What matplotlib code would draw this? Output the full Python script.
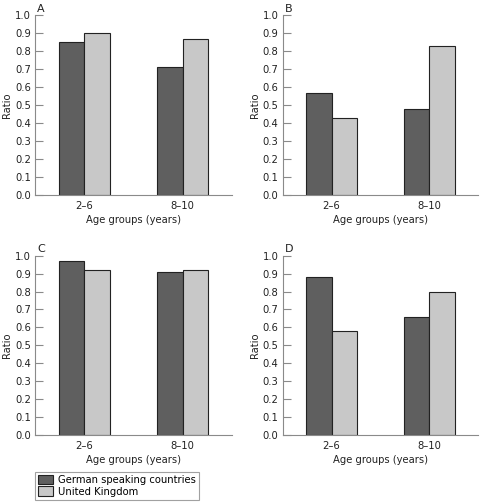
import matplotlib
matplotlib.use("Agg")
import matplotlib.pyplot as plt
import numpy as np

groups = ["2–6", "8–10"]
series_names = ["German speaking countries", "United Kingdom"]
panel_labels = ["A", "B", "C", "D"]
german = {"A": [0.85, 0.71], "B": [0.57, 0.48], "C": [0.97, 0.91], "D": [0.88, 0.66]}
uk = {"A": [0.90, 0.87], "B": [0.43, 0.83], "C": [0.92, 0.92], "D": [0.58, 0.795]}
yticks = [0.0, 0.1, 0.2, 0.3, 0.4, 0.5, 0.6, 0.7, 0.8, 0.9, 1.0]

plt.rcParams['font.family'] = ['DejaVu Sans']
fig = plt.figure(figsize=(4.8, 5.03), dpi=100)

W, H = 480, 503
boxes = {
    "A": (35, 231.7, 15.3, 195),
    "B": (282.7, 478, 15.3, 195),
    "C": (35, 231.7, 255.7, 435),
    "D": (282.7, 478, 255.7, 435),
}
dark = "#5f5f5f"
light = "#c8c8c8"
edge = "#222222"
spine_c = "#8a8a8a"
txt_c = "#222222"
fs = 7.2
bw = 0.26
x = np.arange(len(groups))
handles = None
for p in panel_labels:
    l, r, t, b = boxes[p]
    ax = fig.add_axes([l / W, 1 - b / H, (r - l) / W, (b - t) / H])
    h1 = ax.bar(x - bw / 2, german[p], bw, color=dark, edgecolor=edge, linewidth=0.8)
    h2 = ax.bar(x + bw / 2, uk[p], bw, color=light, edgecolor=edge, linewidth=0.8)
    handles = (h1, h2)
    ax.set_xlim(-0.5, 1.5)
    ax.set_ylim(0, 1.0)
    ax.set_yticks(yticks)
    ax.set_yticklabels([f"{v:.1f}" for v in yticks], fontsize=fs, color=txt_c)
    ax.set_xticks(x)
    ax.set_xticklabels(groups, fontsize=fs, color=txt_c)
    ax.tick_params(axis='y', direction='in', length=6, width=0.8, color=spine_c, pad=3)
    ax.tick_params(axis='x', length=0, pad=4)
    for s in ["top", "right"]:
        ax.spines[s].set_visible(False)
    for s in ["left", "bottom"]:
        ax.spines[s].set_color(spine_c)
        ax.spines[s].set_linewidth(0.8)
    ax.set_ylabel("Ratio", fontsize=fs, color=txt_c, labelpad=2)
    ax.set_xlabel("Age groups (years)", fontsize=fs, color=txt_c, labelpad=3)
    ax.text(0.01, 1.01, p, transform=ax.transAxes, fontsize=8, ha='left', va='bottom',
            color=txt_c)

leg = fig.legend(handles, series_names, loc='upper left',
                 bbox_to_anchor=(35 / W, 1 - 471.7 / H), fontsize=fs,
                 frameon=True, fancybox=False, edgecolor=spine_c, borderpad=0.3,
                 handlelength=1.5, handleheight=1.1, handletextpad=0.5, labelspacing=0.15,
                 borderaxespad=0)
leg.get_frame().set_linewidth(0.8)
fig.savefig("out.png", dpi=100)
